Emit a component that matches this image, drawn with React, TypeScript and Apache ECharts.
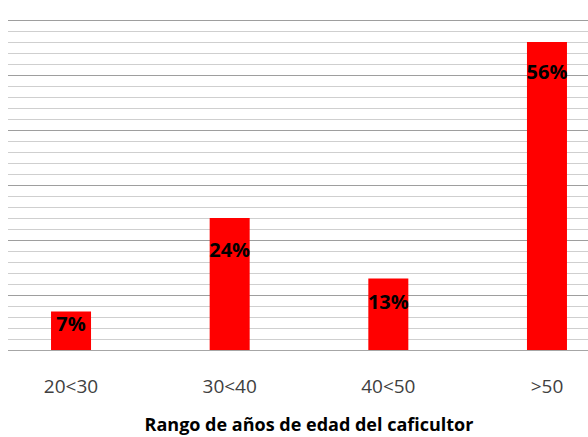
import React, { useEffect, useRef } from "react";
import * as echarts from "echarts";

const categories = ["20<30", "30<40", "40<50", ">50"];
const percentages = [7, 24, 13, 56];
const labelDrops = [2, 21, 13, 19];
const axisTitle = "Rango de años de edad del caficultor";

export default function App() {
  const ref = useRef<HTMLDivElement>(null);
  useEffect(() => {
    if (!ref.current) return;
    const chart = echarts.init(ref.current, undefined, { renderer: "svg" });
    chart.setOption({
      animation: false,
      grid: {
        left: -16.3,
        right: -38.3,
        top: 20,
        bottom: 87,
        containLabel: false,
        outerBoundsMode: "none",
      },
      xAxis: {
        type: "category",
        data: categories,
        axisLine: { show: true, lineStyle: { color: "#a6a6a6", width: 1 } },
        axisTick: { show: false },
        axisLabel: {
          margin: 26,
          fontFamily: "Open Sans",
          fontSize: 19,
          color: "#404040",
        },
        name: axisTitle,
        nameLocation: "middle",
        nameGap: 64,
        nameTextStyle: {
          fontFamily: "Open Sans",
          fontWeight: "bold",
          fontSize: 18,
          lineHeight: 20,
          color: "#000",
          padding: [0, 0, 0, 0],
        },
      },
      yAxis: {
        type: "value",
        min: 0,
        max: 60,
        interval: 10,
        axisLabel: { show: false },
        axisLine: { show: false },
        axisTick: { show: false },
        splitLine: { show: true, lineStyle: { color: "#9e9e9e", width: 1 } },
        minorTick: { show: false, splitNumber: 5 },
        minorSplitLine: { show: true, lineStyle: { color: "#cfcfcf", width: 1 } },
      },
      series: [
        {
          type: "bar",
          barWidth: 40,
          itemStyle: { color: "#ff0000" },
          data: percentages.map((v, i) => ({
            value: v,
            label: { offset: [0, labelDrops[i]] },
          })),
          label: {
            show: true,
            position: "insideTop",
            distance: 0,
            formatter: "{c}%",
            fontFamily: "Open Sans",
            fontWeight: "bold",
            fontSize: 20,
            color: "#000",
          },
        },
      ],
    });
    return () => chart.dispose();
  }, []);
  return (
    <div
      ref={ref}
      style={{ position: "fixed", left: 8, top: 0, width: 580, height: 437, background: "#fff" }}
    />
  );
}
